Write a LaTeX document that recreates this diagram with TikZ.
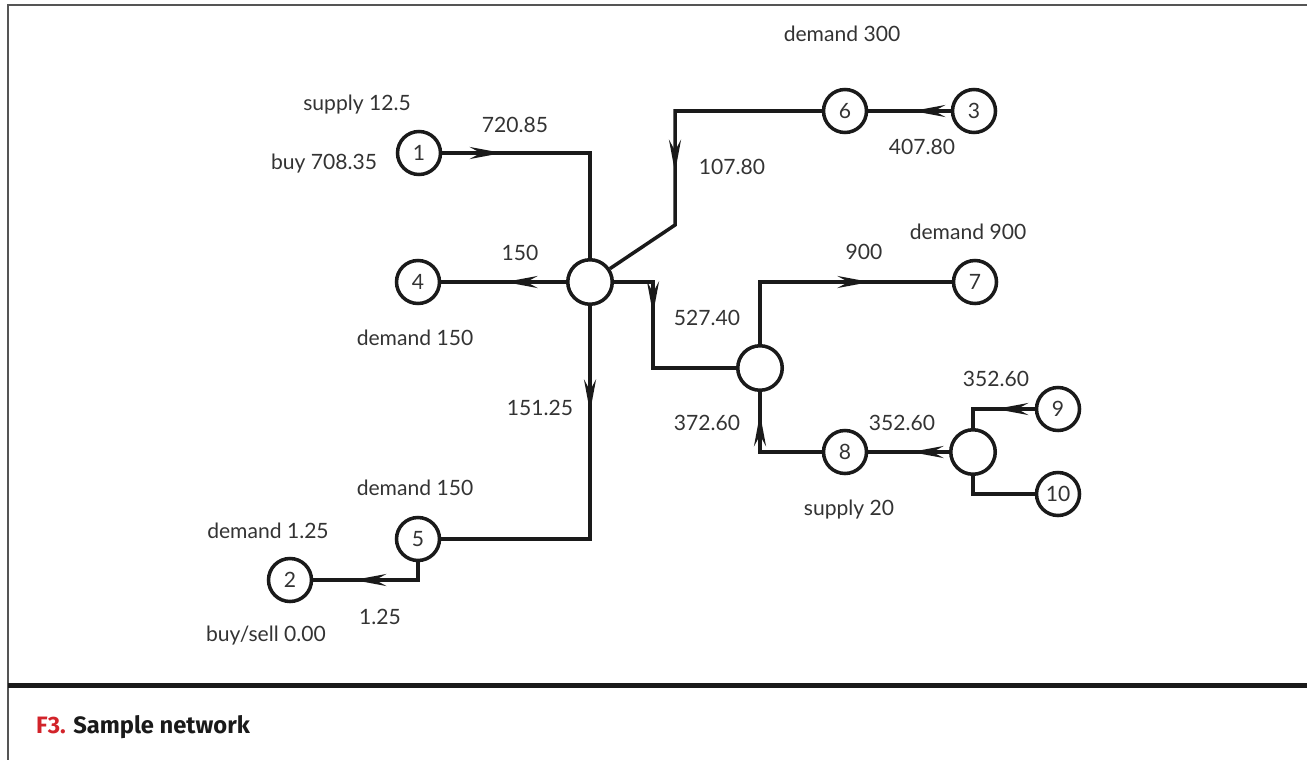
\documentclass[tikz,border=0pt]{standalone}
\usepackage{fontspec}
\setmainfont{Lato}
\newfontfamily\capfont{Fira Sans}
\usetikzlibrary{arrows.meta,decorations.markings}
\definecolor{SNInk}{HTML}{1A1A1A}
\definecolor{SNText}{HTML}{333333}
\definecolor{SNFrame}{HTML}{555555}
\definecolor{SNRed}{HTML}{D2232A}
\tikzset{
  pipe/.style={SNInk,line width=2pt},
  flowat/.style={pipe,postaction={decorate,decoration={markings,
      mark=at position #1 with {\arrow{Stealth[length=6.5mm,width=2.4mm,inset=2.2mm]}}}}},
  site/.style={circle,draw=SNInk,line width=2pt,fill=white,minimum size=8.6mm,
               inner sep=0pt,text=SNText,font=\fontsize{12}{14}\selectfont},
  junction/.style={site,minimum size=8.9mm},
  tag/.style={text=SNText,font=\fontsize{12}{14}\selectfont,inner sep=1pt},
  caption/.style={text=SNInk,font=\capfont\bfseries\fontsize{13.5}{16}\selectfont},
}

\begin{document}
\begin{tikzpicture}[x=.2mm,y=-.2mm]
  \useasboundingbox (0,0) rectangle (1307,760);
  % frame and caption
  \draw[SNFrame,line width=.6pt] (1307,5) -- (8,5) -- (8,760);
  \draw[SNInk,line width=2.8pt] (8,685.5) -- (1307,685.5);
  \node[caption,anchor=west] (cap) at (30,727) {\textcolor{SNRed}{F3.} Sample network};

  % sites
  \node[site] (n1) at (419,153) {1};
  \node[site] (n2) at (290,580) {2};
  \node[site] (n3) at (974,111) {3};
  \node[site] (n4) at (418,282) {4};
  \node[site] (n5) at (418,539) {5};
  \node[site] (n6) at (845,111) {6};
  \node[site] (n7) at (975,282) {7};
  \node[site] (n8) at (845,452) {8};
  \node[site] (n9) at (1058,409) {9};
  \node[site] (n10) at (1058,494) {10};
  \node[junction] (jA) at (590,282) {};
  \node[junction] (jB) at (760,368) {};
  \node[junction] (jC) at (973,452) {};
  \coordinate (k6) at (675,225);
  \coordinate (kAB) at (653,368);

  % flows
  \draw[flowat=1.2cm] (n1) -| (jA);
  \draw[flowat=4.16cm] (n6) -| (k6) -- (jA);
  \draw[flowat=.76cm] (n3) -- (n6);
  \draw[flowat=1.22cm] (jA) -- (n4);
  \draw[flowat=1.42cm] (jA) -| (kAB) -- (jB);
  \draw[flowat=3.44cm] (jB) |- (n7);
  \draw[flowat=2.0cm] (n8) -| (jB);
  \draw[flowat=.76cm] (jC) -- (n8);
  \draw[flowat=.78cm] (n9) -| (jC);
  \draw[pipe] (n10) -| (jC);
  \draw[flowat=2.12cm] (jA) |- (n5);
  \draw[flowat=1.64cm] (n5) |- (n2);

  % labels
  \node[tag] (s1) at (357,105) {supply 12.5};
  \node[tag] (b1) at (324,164) {buy 708.35};
  \node[tag] (f1) at (515,125) {720.85};
  \node[tag] (d6) at (842,34) {demand 300};
  \node[tag] (f3) at (922,147) {407.80};
  \node[tag] (f6) at (732,167) {107.80};
  \node[tag] (f4) at (520,253) {150};
  \node[tag] (d7) at (968,232) {demand 900};
  \node[tag] (f7) at (864,252) {900};
  \node[tag] (d4) at (415,338) {demand 150};
  \node[tag] (fAB) at (707,318) {527.40};
  \node[tag] (f5) at (540,408) {151.25};
  \node[tag] (f8) at (707,423) {372.60};
  \node[tag] (f9) at (996,379) {352.60};
  \node[tag] (fC) at (902,423) {352.60};
  \node[tag] (s8) at (849,510) {supply 20};
  \node[tag] (d5) at (415,488) {demand 150};
  \node[tag] (d2) at (268,531) {demand 1.25};
  \node[tag] (f2) at (380,617) {1.25};
  \node[tag] (b2) at (266,636) {buy/sell 0.00};
\end{tikzpicture}
\end{document}
